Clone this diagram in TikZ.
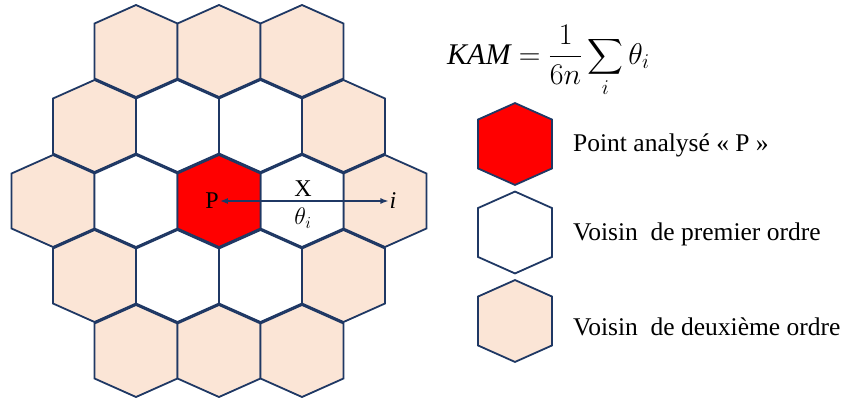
\documentclass[tikz,border=0pt]{standalone}
\usepackage{fix-cm}
\usepackage{exscale}
\usepackage{fontspec}
\setmainfont{Liberation Serif}
\usetikzlibrary{arrows.meta}
\definecolor{navy}{HTML}{1F3864}
\definecolor{peach}{HTML}{FBE5D6}
\definecolor{pointred}{HTML}{FF0000}
\tikzset{
  cellline/.style={draw=navy,line width=1.8pt,line join=miter},
  analysed/.style={fill=pointred},
  firstorder/.style={fill=white},
  secondorder/.style={fill=peach},
  hexcell/.pic={\path[cellline,#1] (0,-46)--(41.5,-27.5)--(41.5,27.5)--(0,46)
    --(-41.5,27.5)--(-41.5,-27.5)--cycle;},
  gridtext/.style={font=\fontsize{24}{28}\selectfont,inner sep=1pt},
  legendtext/.style={font=\fontsize{25.5}{30}\selectfont,anchor=west,inner sep=0pt},
  arrow/.style={{Latex[length=8pt,width=6pt]}-{Latex[length=8pt,width=6pt]},
    draw=navy,line width=1.4pt}
}
\begin{document}
\begin{tikzpicture}[x=1pt,y=-1pt]
  \useasboundingbox (0,0) rectangle (841,399);
  % second-order ring
  \foreach \cx in {136,219,302}{
    \pic at (\cx,51) {hexcell=secondorder};
    \pic at (\cx,351) {hexcell=secondorder};
  }
  \foreach \cx in {94.5,343.5}{
    \pic at (\cx,126) {hexcell=secondorder};
    \pic at (\cx,276) {hexcell=secondorder};
  }
  \foreach \cx in {53,385}
    \pic at (\cx,201) {hexcell=secondorder};
  % first-order ring
  \foreach \cx in {177.5,260.5}{
    \pic at (\cx,126) {hexcell=firstorder};
    \pic at (\cx,276) {hexcell=firstorder};
  }
  \foreach \cx in {136,302}
    \pic at (\cx,201) {hexcell=firstorder};
  % analysed point
  \pic at (219,201) {hexcell=analysed};

  \node[gridtext] (p) at (212,201) {P};
  \node[gridtext] (i) at (393,201) {\textit{i}};
  \node[gridtext] (x) at (303,189) {X};
  \node[gridtext] (theta) at (303,218) {$\theta_i$};
  \draw[arrow] (p.east) -- (i.west);

  % formula and legend
  \node[anchor=west,inner sep=0pt,font=\fontsize{30}{36}\selectfont] (kam) at (447,61)
    {$\displaystyle \mathit{KAM}=\frac{1}{6n}\sum_i\theta_i$};
  \pic[scale=0.89] at (515,144) {hexcell=analysed};
  \pic[scale=0.89] at (515,232.5) {hexcell=firstorder};
  \pic[scale=0.89] at (515,321) {hexcell=secondorder};
  \node[legendtext] (lp) at (573,145) {Point analysé « P »};
  \node[legendtext] (l1) at (573,234) {Voisin\ \ de premier ordre};
  \node[legendtext] (l2) at (573,327) {Voisin\ \ de deuxième ordre};
\end{tikzpicture}
\end{document}
